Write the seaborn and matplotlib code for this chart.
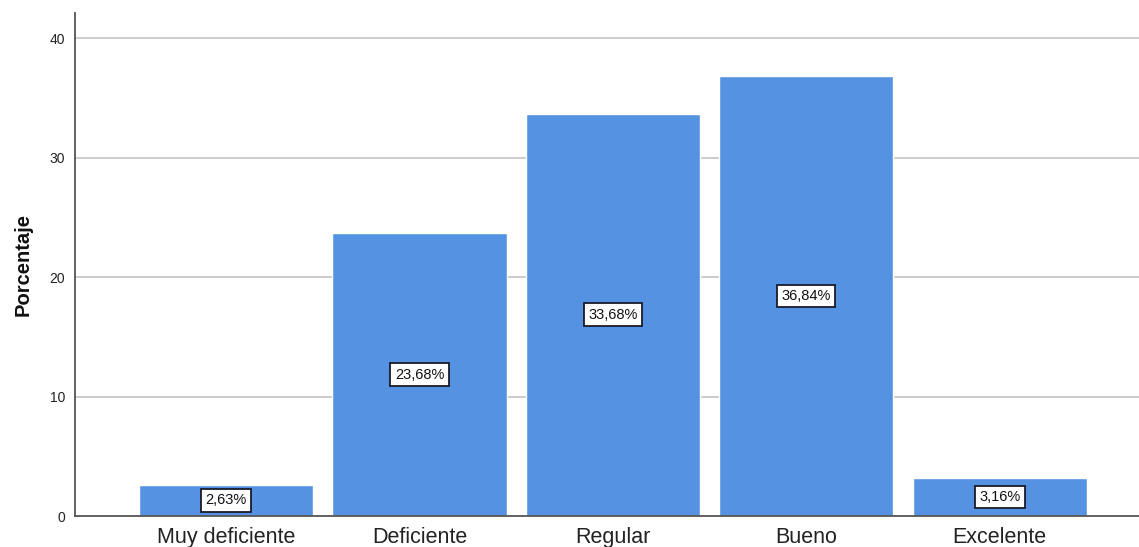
import matplotlib
matplotlib.use("Agg")
import matplotlib.pyplot as plt
import seaborn as sns
import pandas as pd

categories = ["Muy deficiente", "Deficiente", "Regular", "Bueno", "Excelente"]
values = [2.63, 23.68, 33.68, 36.84, 3.16]
labels = ["2,63%", "23,68%", "33,68%", "36,84%", "3,16%"]
y_ticks = [0, 10, 20, 30, 40]

sns.set_theme(style="white")
plt.rcParams['font.family'] = ['Liberation Sans', 'DejaVu Sans']

df = pd.DataFrame({"cat": categories, "pct": values})

fig = plt.figure(figsize=(11.39, 5.47), dpi=100)
ax = fig.add_axes([75/1139, 1 - 516/547, 1 - 75/1139, (516 - 13)/547])

sns.barplot(data=df, x="cat", y="pct", color="#5593E2", saturation=1,
            width=0.9, ax=ax, zorder=2)

ax.set_xlim(-0.781, 4.72)
ax.set_ylim(0, 42.1)
ax.set_yticks(y_ticks)
ax.set_yticklabels([str(t) for t in y_ticks], fontsize=10, color="#222222")
ax.tick_params(axis="y", length=0, pad=7)
ax.tick_params(axis="x", length=0, pad=8, labelsize=15.5, labelcolor="#222222")

for t in y_ticks[1:]:
    ax.axhline(t, color="#C4C4C4", linewidth=1.2, zorder=0)

for s in ["top", "right"]:
    ax.spines[s].set_visible(False)
for s in ["left", "bottom"]:
    ax.spines[s].set_color("#555555")
    ax.spines[s].set_linewidth(1.3)

ax.set_xlabel("")
ax.set_ylabel("Porcentaje", fontsize=14.5, fontweight="bold", color="#111111", labelpad=12)

for i, (v, lab) in enumerate(zip(values, labels)):
    ax.text(i, v / 2, lab, ha="center", va="center", fontsize=10.5, color="#111111",
            zorder=5,
            bbox=dict(boxstyle="square,pad=0.3", facecolor="white",
                      edgecolor="#1a1a2a", linewidth=1.3))

fig.savefig("out.png", dpi=100)
